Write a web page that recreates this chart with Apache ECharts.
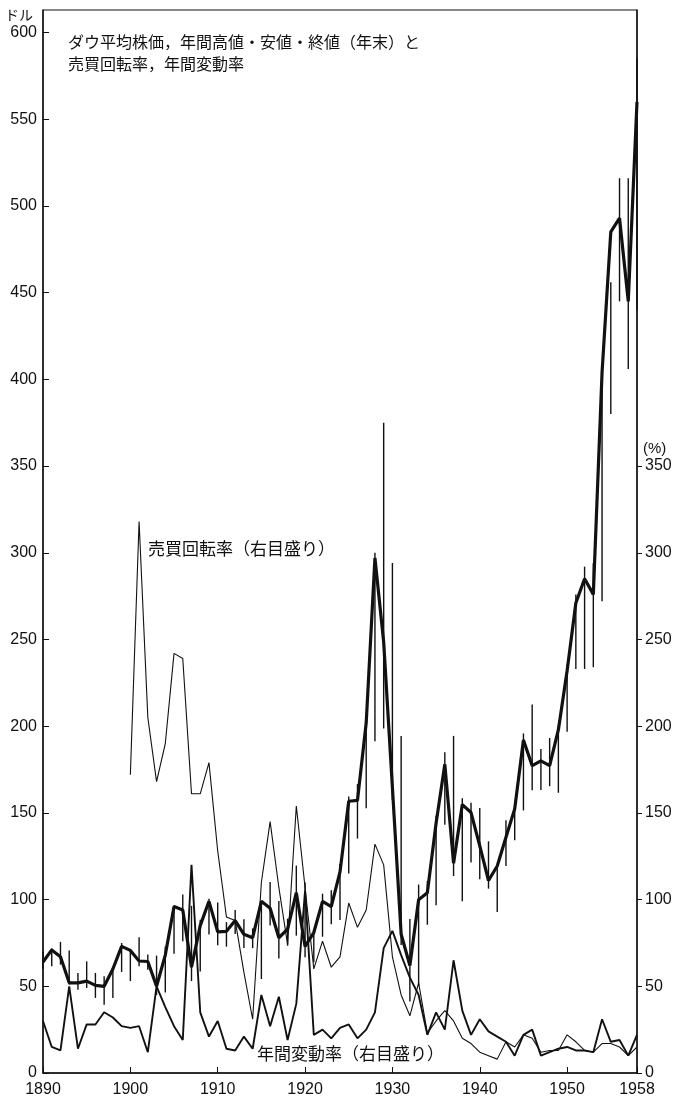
<!DOCTYPE html>
<html style="height: 100%">
    <head>
        <meta charset="utf-8">
    </head>
    <body style="height: 100%; margin: 0; background: #fff">
        <div id="container" style="width:678px;height:1104px"></div>

        <script type="text/javascript" src="https://cdn.jsdelivr.net/npm/echarts@6.0.0/dist/echarts.min.js"></script>

        <script type="text/javascript">
// 年
var years = [1890,1891,1892,1893,1894,1895,1896,1897,1898,1899,
             1900,1901,1902,1903,1904,1905,1906,1907,1908,1909,
             1910,1911,1912,1913,1914,1915,1916,1917,1918,1919,
             1920,1921,1922,1923,1924,1925,1926,1927,1928,1929,
             1930,1931,1932,1933,1934,1935,1936,1937,1938,1939,
             1940,1941,1942,1943,1944,1945,1946,1947,1948,1949,
             1950,1951,1952,1953,1954,1955,1956,1957,1958];

// 終値（年末）ドル
var closeVals = [64,71,67,52,52,53,50.5,50,60,73,
                 70.7,64.6,64.3,50,68,96,94,61,85,99,
                 81.4,81.7,87.9,80,78,99,95,78,83,104,
                 73,81,99,96,116,156.7,157.2,202,297,248.5,
                 164.6,80,62,99.9,104,144,178,121,154.8,150.2,
                 131,111,119.4,135.9,152.3,192,177.2,180,177.3,198,
                 232,271,285,276,404,485,493,445,560];

// 年間高値
var highVals = [70,72,75.6,70.6,57.7,64.4,57.7,55.8,60.6,75,
                71,78.3,68.4,67.7,73,96.6,103,96.4,88.4,100.5,
                98.3,87,94,88.6,83.4,99.2,110.2,99.2,89,119.6,
                109.9,81.5,103.4,105.4,120.5,159.4,166.6,202.4,300,375,
                294.1,194.4,88.8,108.7,110.7,148.4,184.9,194.4,158.4,155.9,
                152.8,133.6,119.7,145.8,152.5,195.8,212.5,186.9,193.2,200.5,
                235.5,276,292,294,404,456,516,516,585];

// 年間安値
var lowVals = [60,61.5,62.5,51,48,49,43.3,39.4,43.3,58.3,
               53,61.5,59.6,45,46.4,68.8,76,53,58.6,79.9,
               73.6,72.9,80.2,72.1,72,54.2,85,66,73.4,79.2,
               66.8,63.9,78.6,85.8,88.3,115,135.2,152.7,191.3,198.7,
               157.5,73.8,41.2,50.2,85.5,96.7,143.1,113.6,99,121.4,
               111.8,106.3,92.9,119.3,134.2,151.4,163.1,163.2,165.4,161.6,
               196.8,233,233,234,272,380,445,406,440];

// 売買回転率 (%)
var turnover = [null,null,null,null,null,null,null,null,null,null,
                172,318,205,168,190,242,239,161,161,179,
                128,90,88,58,31,110,145,107,74,154,
                107,60,76,61,67,98,84,94,132,120,
                67,45,33,52,23,30,36,30,20,17,
                12,10,8,18,15,22,20,12,13,13,
                22,18,13,12,17,17,15,10,15];

// 年間変動率 (%)
var volatility = [30,15,13,50,14,28,28,35,32,27,
                  26,27,12,50,38,27,19,120,35,21,
                  30,14,13,21,14,45,27,44,19,40,
                  105,22,25,20,26,28,20,25,35,72,
                  82,68,55,45,22,35,25,65,36,22,
                  31,24,21,18,10,22,25,10,12,14,
                  15,13,13,12,31,18,19,10,22];

var yTicks = [0,50,100,150,200,250,300,350,400,450,500,550,600];
var yTicksRight = [0,50,100,150,200,250,300,350];
var xLabels = [1890,1900,1910,1920,1930,1940,1950,1958];

function pairs(vals) {
    return years.map(function (y, i) { return [y, vals[i]]; });
}
var rangeData = years.map(function (y, i) { return [y, lowVals[i], highVals[i]]; });

var ink = '#111';
var numFont = {fontFamily: 'Liberation Sans', fontSize: 16, color: ink};
var jpFont = 'Noto Sans CJK JP';
function plain(v) { return String(v); }

var dom = document.getElementById("container");
var myChart = echarts.init(dom, null, {renderer: 'canvas'});

var option = {
    backgroundColor: '#fff',
    animation: false,
    title: [
        {text: 'ダウ平均株価，年間高値・安値・終値（年末）と\n売買回転率，年間変動率',
         left: 68, top: 31, padding: 0,
         textStyle: {fontFamily: jpFont, fontSize: 16, fontWeight: 'normal', lineHeight: 22, color: ink}},
        {text: 'ドル', left: 5, top: 8, padding: 0,
         textStyle: {fontFamily: jpFont, fontSize: 14, fontWeight: 'normal', color: ink}},
        {text: '(%)', left: 643, top: 441, padding: 0,
         textStyle: {fontFamily: 'Liberation Sans', fontSize: 15, fontWeight: 'normal', color: ink}},
        {text: '売買回転率（右目盛り）', left: 148, top: 540, padding: 0,
         textStyle: {fontFamily: jpFont, fontSize: 17, fontWeight: 'normal', color: ink}},
        {text: '年間変動率（右目盛り）', left: 257, top: 1045, padding: 0,
         textStyle: {fontFamily: jpFont, fontSize: 17, fontWeight: 'normal', color: ink}}
    ],
    grid: {
        left: 43, right: 41, top: 10, bottom: 31,
        show: true, borderColor: ink, borderWidth: 1
    },
    xAxis: {
        type: 'value', min: 1890, max: 1958,
        axisLine: {lineStyle: {color: ink, width: 1.5}},
        axisTick: {inside: true, length: 6, lineStyle: {color: ink}, customValues: xLabels},
        axisLabel: Object.assign({margin: 9, customValues: xLabels, formatter: plain}, numFont),
        splitLine: {show: false}
    },
    yAxis: [
        {
            type: 'value', min: 0, max: 613, position: 'left',
            axisLine: {show: true, lineStyle: {color: ink, width: 1.5}},
            axisTick: {show: true, inside: true, length: 6, lineStyle: {color: ink}, customValues: yTicks},
            axisLabel: Object.assign({margin: 6, customValues: yTicks, formatter: plain}, numFont),
            splitLine: {show: false}
        },
        {
            type: 'value', min: 0, max: 613, position: 'right',
            axisLine: {show: true, lineStyle: {color: ink, width: 1.5}},
            axisTick: {show: true, inside: false, length: 5, lineStyle: {color: ink}, customValues: yTicksRight},
            axisLabel: Object.assign({margin: 8, customValues: yTicksRight, formatter: plain}, numFont),
            splitLine: {show: false}
        }
    ],
    series: [
        {
            name: '年間高値・安値', type: 'custom', yAxisIndex: 0,
            data: rangeData,
            encode: {x: 0, y: [1, 2]},
            renderItem: function (params, api) {
                var lo = api.coord([api.value(0), api.value(1)]);
                var hi = api.coord([api.value(0), api.value(2)]);
                return {
                    type: 'line',
                    shape: {x1: lo[0], y1: lo[1], x2: hi[0], y2: hi[1]},
                    style: {stroke: ink, lineWidth: 1.4}
                };
            }
        },
        {
            name: '売買回転率', type: 'line', yAxisIndex: 1,
            data: pairs(turnover), symbol: 'none', connectNulls: false,
            lineStyle: {color: ink, width: 1.1}
        },
        {
            name: '年間変動率', type: 'line', yAxisIndex: 1,
            data: pairs(volatility), symbol: 'none',
            lineStyle: {color: ink, width: 1.9}
        },
        {
            name: '終値', type: 'line', yAxisIndex: 0,
            data: pairs(closeVals), symbol: 'none',
            lineStyle: {color: ink, width: 3.2}
        }
    ]
};

myChart.setOption(option);
        </script>
    </body>
</html>
